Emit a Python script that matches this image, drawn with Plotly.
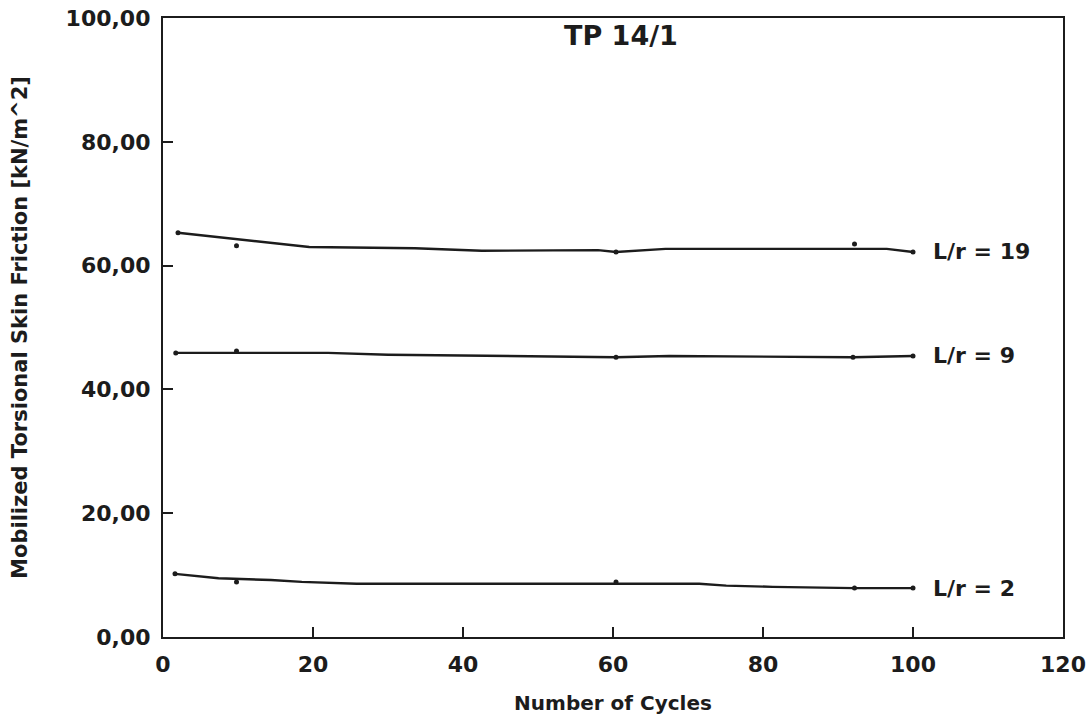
import plotly.graph_objects as go

# Data
cycles_19 = [2, 19.5, 33.6, 42.5, 58, 60.4, 67, 92.2, 96.5, 100]
friction_19 = [65.3, 63.0, 62.8, 62.4, 62.5, 62.2, 62.7, 62.8, 62.7, 62.2]
cycles_9 = [1.7, 22, 30, 42.5, 52.8, 60.4, 67.5, 92, 100]
friction_9 = [45.9, 45.9, 45.6, 45.4, 45.2, 45.2, 45.4, 45.2, 45.4]
cycles_2 = [1.6, 7.4, 14.4, 18.5, 25.8, 38.1, 42, 57.2, 71.5, 75.1, 81.3, 92.2, 100]
friction_2 = [10.2, 9.5, 9.2, 8.9, 8.6, 8.6, 8.6, 8.6, 8.6, 8.3, 8.1, 7.9, 7.9]

# measured points (markers)
mark_x_19 = [2, 9.8, 60.4, 92.2, 100]
mark_y_19 = [65.3, 63.2, 62.2, 63.5, 62.2]
mark_x_9 = [1.7, 9.8, 60.4, 92, 100]
mark_y_9 = [45.9, 46.2, 45.2, 45.2, 45.4]
mark_x_2 = [1.6, 9.8, 60.4, 92.2, 100]
mark_y_2 = [10.2, 8.9, 8.9, 7.9, 7.9]

series_labels = ["L/r = 19", "L/r = 9", "L/r = 2"]
x_ticks = [0, 20, 40, 60, 80, 100, 120]
y_ticks = [0, 20, 40, 60, 80, 100]
y_tick_text = ["0,00", "20,00", "40,00", "60,00", "80,00", "100,00"]

INK = "#1c1c1c"
FONT = "DejaVu Sans, Verdana, sans-serif"

fig = go.Figure()
series = [
    (cycles_19, friction_19, mark_x_19, mark_y_19),
    (cycles_9, friction_9, mark_x_9, mark_y_9),
    (cycles_2, friction_2, mark_x_2, mark_y_2),
]
for (cx, cy, mx, my), lab in zip(series, series_labels):
    fig.add_trace(go.Scatter(x=cx, y=cy, mode="lines",
                             line=dict(color=INK, width=2.4), showlegend=False))
    fig.add_trace(go.Scatter(x=mx, y=my, mode="markers",
                             marker=dict(color=INK, size=5), showlegend=False))
    fig.add_annotation(x=cx[-1], y=cy[-1], text=lab, showarrow=False,
                       xanchor="left", yanchor="middle", xshift=18,
                       font=dict(family=FONT, size=22, color=INK, weight="bold"))

fig.add_annotation(x=61, y=97.2, text="TP 14/1", showarrow=False,
                   xanchor="center", yanchor="middle",
                   font=dict(family=FONT, size=27, color=INK, weight="bold"))

fig.update_layout(
    width=1092, height=721,
    margin=dict(l=163, r=29, t=18, b=84),
    paper_bgcolor="#ffffff", plot_bgcolor="#ffffff",
    font=dict(family=FONT, color=INK),
)
fig.update_xaxes(
    range=[0, 120], tickvals=x_ticks, ticktext=[str(v) for v in x_ticks],
    ticks="inside", ticklen=10, tickwidth=1.5, tickcolor=INK,
    showline=True, linecolor=INK, linewidth=2.2, mirror=True,
    showgrid=False, zeroline=False, ticklabelstandoff=6, automargin=False,
    ticklabeloverflow="allow",
    tickfont=dict(family=FONT, size=22, color=INK, weight="bold"),
    title=dict(text="Number of Cycles",
               font=dict(family=FONT, size=20, color=INK, weight="bold"), standoff=20),
)
fig.update_yaxes(
    range=[0, 100], tickvals=y_ticks, ticktext=y_tick_text,
    ticks="inside", ticklen=10, tickwidth=1.5, tickcolor=INK,
    showline=True, linecolor=INK, linewidth=2.2, mirror=True,
    showgrid=False, zeroline=False, ticklabelstandoff=6, automargin=False,
    ticklabeloverflow="allow",
    tickfont=dict(family=FONT, size=22, color=INK, weight="bold"),
    title=dict(text="Mobilized Torsional Skin Friction [kN/m^2]",
               font=dict(family=FONT, size=21, color=INK, weight="bold"), standoff=32),
)

fig.write_html("out.html",
               config={"displayModeBar": False},
               post_script="document.body.style.margin='0';document.body.style.overflow='hidden';")
